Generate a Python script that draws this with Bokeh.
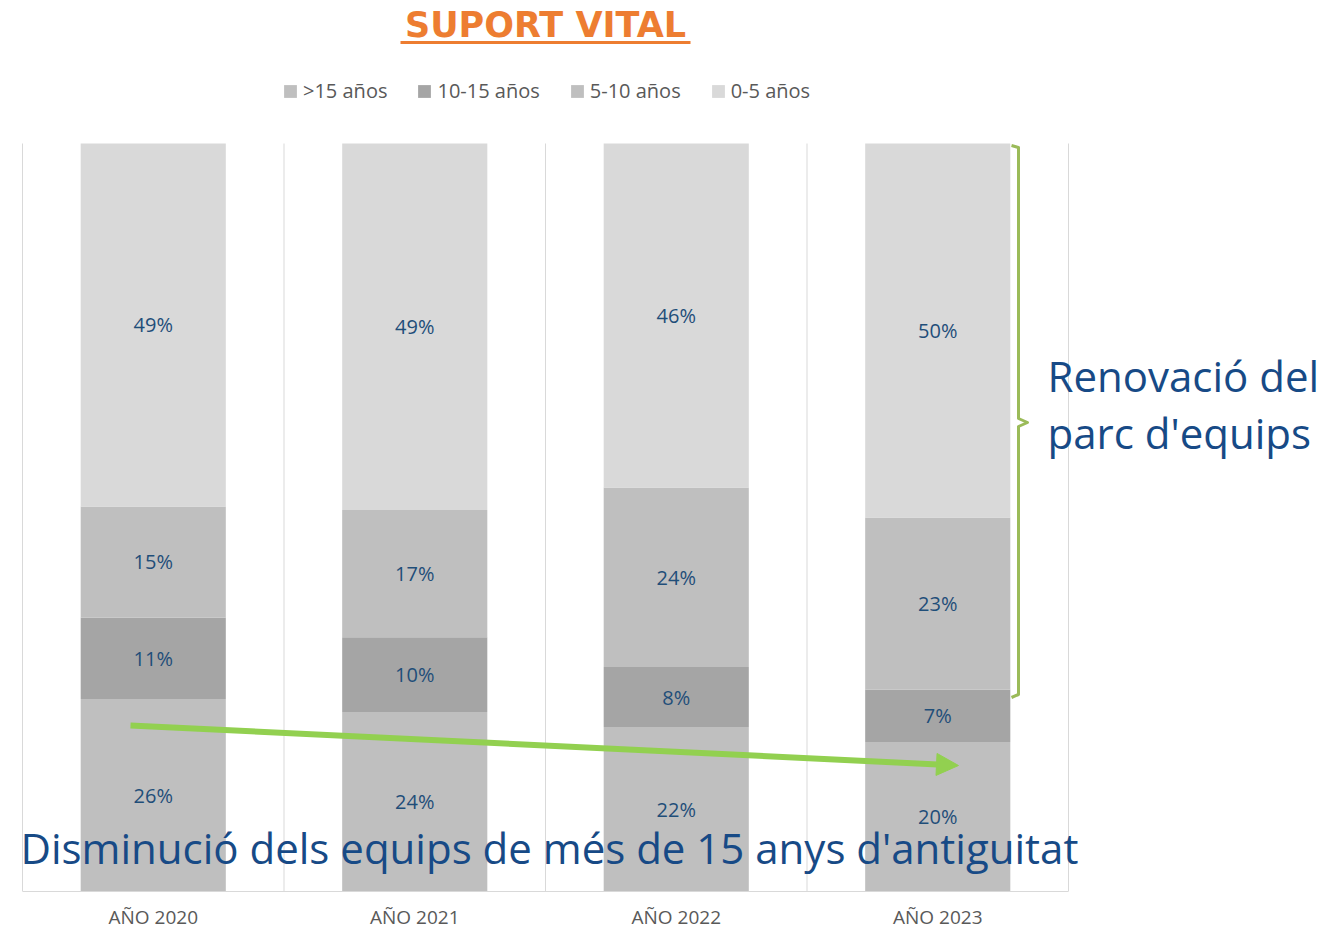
import numpy as np
from bokeh.plotting import figure
from bokeh.models import (ColumnDataSource, Range1d, FixedTicker, Label, Arrow,
                          NormalHead, Legend, LegendItem)
from bokeh.embed import file_html
from bokeh.resources import INLINE
from bokeh.core.properties import value

# ---------------- data ----------------
years = ["AÑO 2020", "AÑO 2021", "AÑO 2022", "AÑO 2023"]
series = [">15 años", "10-15 años", "5-10 años", "0-5 años"]
s_gt15 = [26, 24, 22, 20]
s_10_15 = [11, 10, 8, 7]
s_5_10 = [15, 17, 24, 23]
s_0_5 = [49, 49, 46, 50]
colors = ["#BFBFBF", "#A5A5A5", "#BFBFBF", "#D9D9D9"]

title_text = "SUPORT VITAL"
note_right = ["Renovació del", "parc d'equips"]
note_bottom = "Disminució dels equips de més de 15 anys d'antiguitat"

FONT = "Open Sans"
BLUE = "#1F4E79"
NOTE_BLUE = "#174A86"

# ---------------- layout geometry (pixels) ----------------
W = 1322
PL, PR, PT, PB = 22, 1068, 143, 891          # plot area in the canvas
PXS = (PR - PL) / len(years)                  # pixels per category
PYS = (PB - PT)                               # pixels per 100 %


def dx(px):
    return (px - PL) / PXS


def dy(py):
    return (PB - py) / PYS


# ---------------- values ----------------
vals = np.array([s_gt15, s_10_15, s_5_10, s_0_5], dtype=float)
frac = vals / vals.sum(axis=0)
xs = [i + 0.5 for i in range(len(years))]
keys = ["k%d" % i for i in range(len(series))]
data = {"x": xs}
for k, f in zip(keys, frac):
    data[k] = list(f)
src = ColumnDataSource(data)

p = figure(frame_width=W, frame_height=PB,
           x_range=Range1d(dx(0), dx(W)), y_range=Range1d(0, dy(0)),
           output_backend="svg", toolbar_location=None,
           min_border_left=0, min_border_right=0, min_border_top=0,
           min_border_bottom=0)
p.outline_line_color = None
p.yaxis.visible = False
p.grid.visible = False

p.xaxis.ticker = FixedTicker(ticks=xs)
p.xaxis.major_label_overrides = {x: y for x, y in zip(xs, years)}
p.xaxis.bounds = (0, len(years))
p.xaxis.axis_line_color = "#D9D9D9"
p.xaxis.major_tick_line_color = None
p.xaxis.minor_tick_line_color = None
p.xaxis.major_tick_out = 0
p.xaxis.major_tick_in = 0
p.xaxis.minor_tick_out = 0
p.xaxis.minor_tick_in = 0
p.xaxis.major_label_standoff = 12
p.xaxis.major_label_text_font = FONT
p.xaxis.major_label_text_font_size = "19px"
p.xaxis.major_label_text_color = "#595959"

# vertical grid lines at the category boundaries
bounds = list(range(len(years) + 1))
p.segment(x0=bounds, x1=bounds, y0=[0] * len(bounds), y1=[1] * len(bounds),
          line_color="#D9D9D9", line_width=1)

rs = p.vbar_stack(keys, x="x", width=0.555, source=src, fill_color=colors,
                  line_color=None)

# legend
legend = Legend(items=[LegendItem(label=n, renderers=[r]) for n, r in zip(series, rs)],
                orientation="horizontal", location=(282, 787),
                glyph_width=16, glyph_height=16, label_text_font=FONT,
                label_text_font_size="20px", label_text_color="#595959",
                spacing=29, label_standoff=5, padding=0, margin=0,
                border_line_color=None, background_fill_alpha=0)
p.add_layout(legend)

# percentage labels
lx, ly, lt = [], [], []
cum = np.zeros(len(years))
for i in range(len(series)):
    for j in range(len(years)):
        lx.append(xs[j])
        ly.append(cum[j] + frac[i][j] / 2)
        lt.append("%d%%" % vals[i][j])
    cum = cum + frac[i]
p.text(x=lx, y=ly, text=lt, text_align="center", text_baseline="middle",
       text_font=value(FONT), text_font_size="20px", text_color=BLUE)

# title with underline
p.add_layout(Label(x=dx(545), y=dy(24), text=title_text, text_align="center",
                   text_baseline="middle", text_font="DejaVu Sans",
                   text_font_size="35px", text_font_style="bold",
                   text_color="#ED7D31"))
p.segment(x0=[dx(400)], x1=[dx(690)], y0=[dy(42)], y1=[dy(42)],
          line_color="#ED7D31", line_width=3)

# green trend arrow
p.add_layout(Arrow(x_start=dx(130), y_start=dy(725), x_end=dx(958), y_end=dy(765),
                   line_color="#92D050", line_width=6,
                   end=NormalHead(size=22, fill_color="#92D050", line_color="#92D050")))

# bracket
bx = [dx(1011), dx(1018), dx(1018), dx(1027), dx(1018), dx(1018), dx(1011)]
by = [dy(145), dy(147), dy(418), dy(422), dy(426), dy(694), dy(697)]
p.line(x=bx, y=by, line_color="#9BBB59", line_width=3, line_join="round")

# notes
p.add_layout(Label(x=dx(1047), y=dy(375), text=note_right[0], text_align="left",
                   text_baseline="middle", text_font=FONT, text_font_size="42px",
                   text_color=NOTE_BLUE))
p.add_layout(Label(x=dx(1047), y=dy(432), text=note_right[1], text_align="left",
                   text_baseline="middle", text_font=FONT, text_font_size="42px",
                   text_color=NOTE_BLUE))
p.add_layout(Label(x=dx(20), y=dy(847), text=note_bottom, text_align="left",
                   text_baseline="middle", text_font=FONT, text_font_size="42px",
                   text_color=NOTE_BLUE))

open("out.html", "w").write(file_html(p, INLINE))
